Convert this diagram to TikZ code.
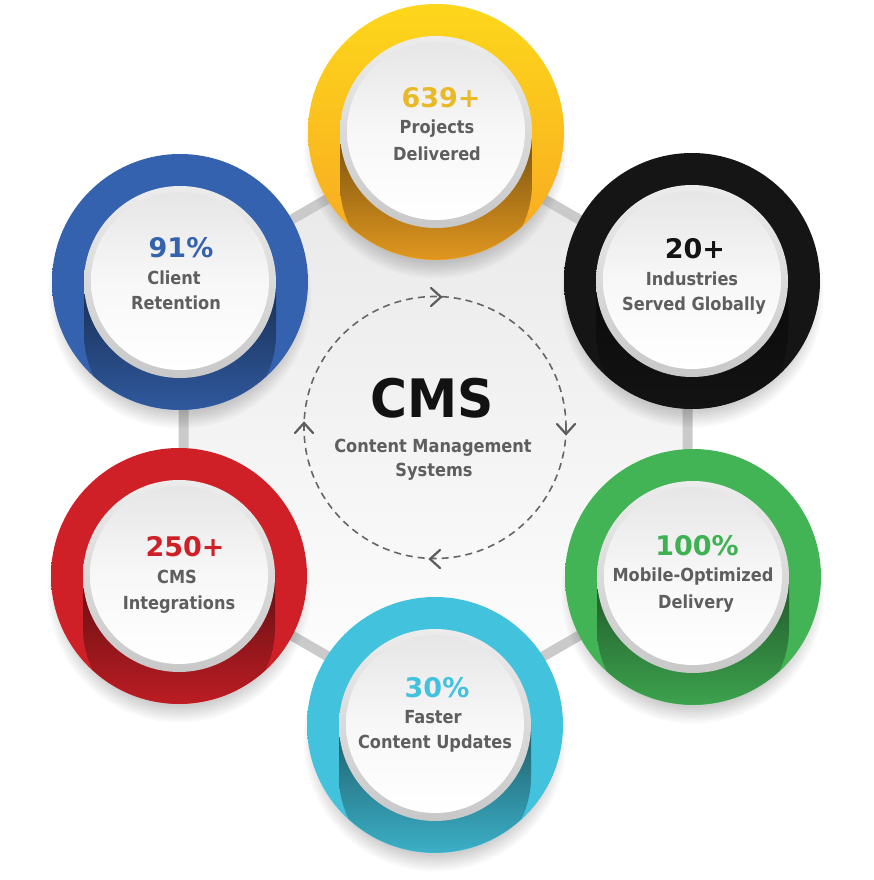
\documentclass[tikz,border=0pt]{standalone}
\usepackage{fontspec}
\setmainfont{DejaVu Sans}
\newfontfamily\numfont{DejaVu Sans}
\newfontfamily\labfont[FakeStretch=0.9]{DejaVu Sans}
\newfontfamily\bigfont[FakeStretch=0.95]{DejaVu Sans}
\usetikzlibrary{calc}
\definecolor{cyellowtop}{HTML}{FDD71B}
\definecolor{cyellowbot}{HTML}{F8A722}
\definecolor{cblue}{HTML}{3462AE}
\definecolor{cblack}{HTML}{151515}
\definecolor{cgreen}{HTML}{43B456}
\definecolor{cred}{HTML}{CF2027}
\definecolor{ccyan}{HTML}{42C2DC}
\definecolor{nyellow}{HTML}{E9B928}
\definecolor{ngreen}{HTML}{3EB152}
\definecolor{labgray}{HTML}{5E5E5E}
\definecolor{hexgray}{HTML}{CACACA}
\definecolor{hexfill}{HTML}{E7E7E7}
\definecolor{rimtop}{HTML}{ECECEC}
\definecolor{rimbot}{HTML}{C8C8C8}
\definecolor{facetop}{HTML}{E6E6E6}
\definecolor{loopgray}{HTML}{666666}
\tikzset{
  numtxt/.style={font=\numfont\bfseries\fontsize{27}{30}\selectfont, anchor=base, inner sep=0pt},
  labtxt/.style={font=\labfont\bfseries\fontsize{18}{21}\selectfont, text=labgray, anchor=base, inner sep=0pt},
  hexline/.style={draw=hexgray, line width=10pt, line join=round},
  loopline/.style={draw=loopgray, line width=1.6pt, dash pattern=on 7pt off 5pt},
  chevron/.style={draw=loopgray!90!black, line width=2.2pt, line cap=round, line join=miter},
  ringnode/.style={circle, minimum size=256pt, inner sep=0pt, draw=none},
}
% #1 name, #2 cx, #3 cy, #4 top colour, #5 bottom colour
\newcommand\statring[5]{%
  \foreach \k in {0,...,7}{\fill[black, opacity=0.022] (#2,#3+15) circle[radius=116+2.2*\k];}
  \node[ringnode, top color=#4, bottom color=#5] (#1) at (#2,#3) {};
  \begin{scope}
    \clip (#2,#3) circle[radius=127.6];
    \shade[top color=#5!48!black, bottom color=#5!97!black]
      (#2-96,#3) -- (#2-96,#3+52) arc[start angle=180, end angle=0, radius=96]
      -- (#2+96,#3) -- cycle;
  \end{scope}
  \shade[top color=rimtop, bottom color=rimbot] (#2,#3) circle[radius=96];
  \shade[top color=facetop, bottom color=white, middle color=white!97!black] (#2,#3-1) circle[radius=89];
}
\begin{document}
\begin{tikzpicture}[x=1pt, y=-1pt]
\useasboundingbox (0,0) rectangle (873,880);
\fill[white] (0,0) rectangle (873,880);
% hexagon frame
\coordinate (h1) at (435.5,136.5);
\coordinate (h2) at (687.5,282);
\coordinate (h3) at (687.5,573);
\coordinate (h4) at (435.5,718.5);
\coordinate (h5) at (183.5,573);
\coordinate (h6) at (183.5,282);
\shade[top color=hexfill, bottom color=white] (h1) -- (h2) -- (h3) -- (h4) -- (h5) -- (h6) -- cycle;
\draw[hexline] (h1) -- (h2) -- (h3) -- (h4) -- (h5) -- (h6) -- cycle;
% central loop
\node[circle, loopline, minimum size=262pt, inner sep=0pt] (loop) at (435,427.5) {};
\draw[chevron] (431,288) -- (441,297) -- (431,306);
\draw[chevron] (557,424) -- (566,434) -- (575,424);
\draw[chevron] (440,550) -- (430,559) -- (440,568);
\draw[chevron] (295,433) -- (304,423) -- (313,433);
\node[font=\bigfont\bfseries\fontsize{53}{56}\selectfont, text=black!93, anchor=base, inner sep=0pt] (cms) at (432,417) {CMS};
\node[labtxt] (cms1) at (433,452) {Content Management};
\node[labtxt] (cms2) at (434,476) {Systems};
% rings
\statring{ryellow}{436}{132}{cyellowtop}{cyellowbot}
\statring{rblue}{180}{282}{cblue}{cblue}
\statring{rblack}{692}{281}{cblack}{cblack}
\statring{rred}{179}{576}{cred}{cred}
\statring{rgreen}{693}{577}{cgreen}{cgreen}
\statring{rcyan}{435}{725}{ccyan}{ccyan}
% texts
\node[numtxt, text=nyellow] (n1) at (441,108) {639+};
\node[labtxt] (a1) at (437,134) {Projects};
\node[labtxt] (b1) at (437,160) {Delivered};
\node[numtxt, text=cblue] (n2) at (181,257) {91\%};
\node[labtxt] (a2) at (174,284) {Client};
\node[labtxt] (b2) at (176,309) {Retention};
\node[numtxt, text=black!92] (n3) at (695,258) {20+};
\node[labtxt] (a3) at (692,285) {Industries};
\node[labtxt] (b3) at (694,310) {Served Globally};
\node[numtxt, text=cred] (n4) at (185,556) {250+};
\node[labtxt] (a4) at (177,583) {CMS};
\node[labtxt] (b4) at (179,609) {Integrations};
\node[numtxt, text=ngreen] (n5) at (697,555) {100\%};
\node[labtxt] (a5) at (693,581) {Mobile-Optimized};
\node[labtxt] (b5) at (696,608) {Delivery};
\node[numtxt, text=ccyan] (n6) at (437,697) {30\%};
\node[labtxt] (a6) at (433,723) {Faster};
\node[labtxt] (b6) at (435,748) {Content Updates};
\end{tikzpicture}
\end{document}
